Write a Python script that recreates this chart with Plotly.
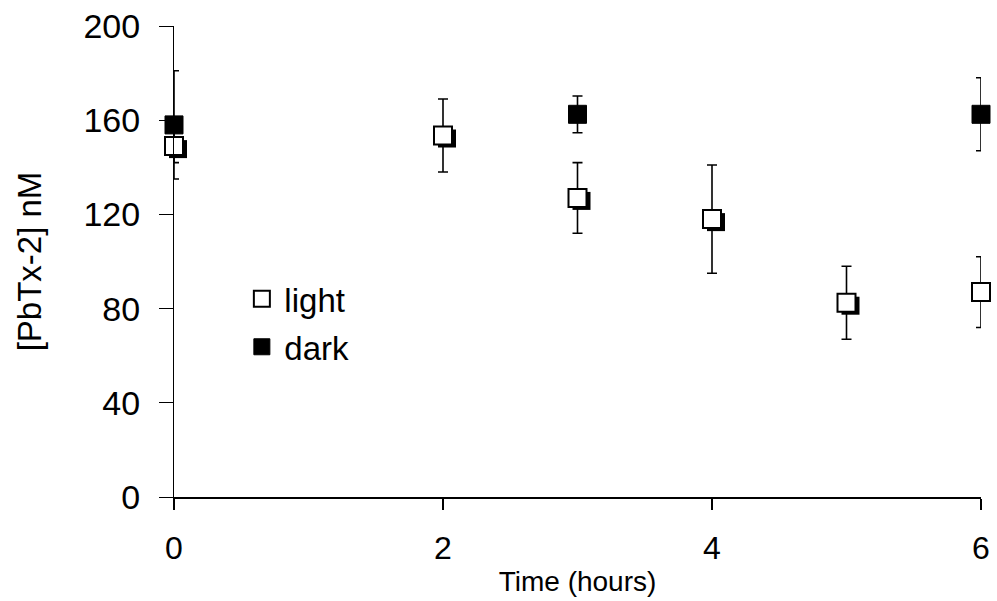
import plotly.graph_objects as go

# Data
time_light = [0, 2, 3, 4, 5, 6]
light_vals = [149, 153.5, 127, 118, 82.5, 87]
light_err = [7, 15.5, 15, 23, 15.5, 15]

time_dark = [0, 3, 6]
dark_vals = [158, 162.5, 162.5]
dark_err = [23, 7.8, 15.5]

x_ticks = [0, 2, 4, 6]
y_ticks = [0, 40, 80, 120, 160, 200]

# plot geometry (pixels) used for the drop-shadow offset
W, H = 997, 601
ML, MR, MT, MB = 174, 16, 26, 104
px_x = 6 / (W - ML - MR)
px_y = 200 / (H - MT - MB)
sdx, sdy = 4 * px_x, 3 * px_y

FONT = "Liberation Sans, Arial, sans-serif"

fig = go.Figure()

# dark series
fig.add_trace(go.Scatter(
    x=time_dark, y=dark_vals, mode="markers", name="dark",
    marker=dict(symbol="square", size=18, color="black",
                line=dict(color="black", width=1)),
    error_y=dict(type="data", array=dark_err, visible=True,
                 color="black", thickness=1.6, width=5),
    cliponaxis=False, legendrank=2, legendgroup="d",
))

# shadow for light series
fig.add_trace(go.Scatter(
    x=[t + sdx for t in time_light], y=[v - sdy for v in light_vals],
    mode="markers", showlegend=False, hoverinfo="skip",
    marker=dict(symbol="square", size=18, color="black",
                line=dict(color="black", width=0)),
    cliponaxis=False,
))

# light series
fig.add_trace(go.Scatter(
    x=time_light, y=light_vals, mode="markers", name="light",
    marker=dict(symbol="square", size=18, color="white",
                line=dict(color="black", width=2)),
    error_y=dict(type="data", array=light_err, visible=True,
                 color="black", thickness=1.6, width=5),
    cliponaxis=False, legendrank=1, legendgroup="l",
))

fig.update_layout(
    width=W, height=H,
    margin=dict(l=ML, r=MR, t=MT, b=MB, autoexpand=False),
    paper_bgcolor="white", plot_bgcolor="white",
    font=dict(family=FONT, color="black", size=30),
    showlegend=True,
    legend=dict(x=0.081, y=0.48, xanchor="left", yanchor="top",
                bgcolor="rgba(0,0,0,0)", font=dict(size=33),
                itemwidth=35, tracegroupgap=2, traceorder="grouped"),
    xaxis=dict(range=[0, 6], tickvals=x_ticks, ticktext=[str(v) for v in x_ticks],
               showgrid=False, zeroline=False, showline=True,
               linecolor="black", linewidth=2, ticks="outside",
               ticklen=11, tickwidth=2, tickcolor="black",
               tickfont=dict(size=32), ticklabelstandoff=11,
               title=dict(text="Time (hours)", font=dict(size=28), standoff=6)),
    yaxis=dict(range=[0, 200], tickvals=y_ticks, ticktext=[str(v) for v in y_ticks],
               showgrid=False, zeroline=False, showline=True,
               linecolor="black", linewidth=1, ticks="outside",
               ticklen=14, tickwidth=1, tickcolor="black",
               tickfont=dict(size=34), ticklabelstandoff=12,
               title=dict(text="[PbTx-2] nM", font=dict(size=33), standoff=31)),
)

fig.write_html("out.html", config={"displayModeBar": False},
               post_script="document.body.style.margin='0';document.body.style.overflow='hidden';")
